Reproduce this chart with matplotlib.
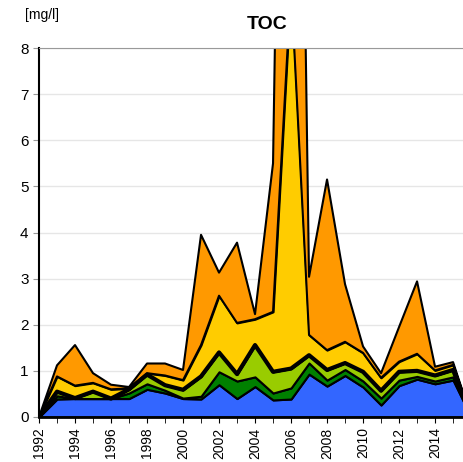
import numpy as np
import matplotlib.pyplot as plt

plt.rcParams['font.family'] = ['Liberation Sans', 'DejaVu Sans']

years = list(range(1992, 2017))

# cumulative tops
top_blue = [0, 0.39, 0.40, 0.40, 0.40, 0.40, 0.60, 0.52, 0.40, 0.39, 0.70, 0.40, 0.66,
            0.37, 0.39, 0.93, 0.67, 0.90, 0.65, 0.26, 0.68, 0.82, 0.72, 0.80, 0]
top_dkgreen = [0, 0.46, 0.40, 0.40, 0.40, 0.52, 0.72, 0.58, 0.41, 0.45, 0.98, 0.78, 0.87,
               0.52, 0.63, 1.17, 0.80, 1.03, 0.78, 0.41, 0.80, 0.88, 0.78, 0.87, 0]
top_ltgreen = [0, 0.55, 0.41, 0.55, 0.40, 0.60, 0.92, 0.69, 0.59, 0.88, 1.40, 0.93, 1.56,
               0.98, 1.05, 1.34, 1.02, 1.17, 0.98, 0.57, 0.98, 1.00, 0.90, 1.02, 0]
top_yellow = [0, 0.88, 0.68, 0.74, 0.60, 0.62, 0.95, 0.90, 0.80, 1.56, 2.63, 2.04, 2.12,
              2.28, 9.35, 1.78, 1.45, 1.63, 1.39, 0.85, 1.20, 1.37, 1.01, 1.13, 0]
top_orange = [0, 1.12, 1.56, 0.95, 0.70, 0.65, 1.16, 1.16, 1.02, 3.95, 3.13, 3.78, 2.23,
              5.50, 30.0, 3.04, 5.15, 2.88, 1.53, 0.95, 1.95, 2.94, 1.09, 1.19, 0]

tops = np.array([top_blue, top_dkgreen, top_ltgreen, top_yellow, top_orange])
layers = np.diff(np.vstack([np.zeros(len(years)), tops]), axis=0)
colors = ['#3366ff', '#008000', '#99cc00', '#ffcc00', '#ff9900']

fig = plt.figure(figsize=(4.64, 4.62), dpi=100)
ax = fig.add_axes([39 / 464, 1 - 417 / 462, 456 / 464, 369 / 462])

ax.stackplot(years, layers, colors=colors, edgecolor='black', linewidth=1.5, zorder=2)
ax.plot(years, top_ltgreen, color='black', linewidth=3, zorder=3)

ax.set_xlim(1992, 2017.33)
ax.set_ylim(0, 8)
ax.set_yticks(range(0, 9))
ax.set_xticks(range(1992, 2016, 2))
ax.set_xticks(range(1992, 2017), minor=True)
ax.tick_params(axis='x', labelrotation=90, labelsize=10, length=4, color='black')
ax.tick_params(axis='x', which='minor', length=4)
ax.tick_params(axis='y', labelsize=11, length=4, color='#999999')
ax.grid(axis='y', color='#e6e6e6', linewidth=1, zorder=0)
ax.set_axisbelow(True)

ax.spines['top'].set_color('#999999')
ax.spines['right'].set_visible(False)
ax.spines['left'].set_linewidth(1.5)
ax.spines['bottom'].set_linewidth(2)

ax.set_title('TOC', fontsize=14, fontweight='bold', pad=14)
fig.text(25 / 464, 1 - 15 / 462, '[mg/l]', fontsize=10, va='center', ha='left')

fig.savefig('out.png', dpi=100)
